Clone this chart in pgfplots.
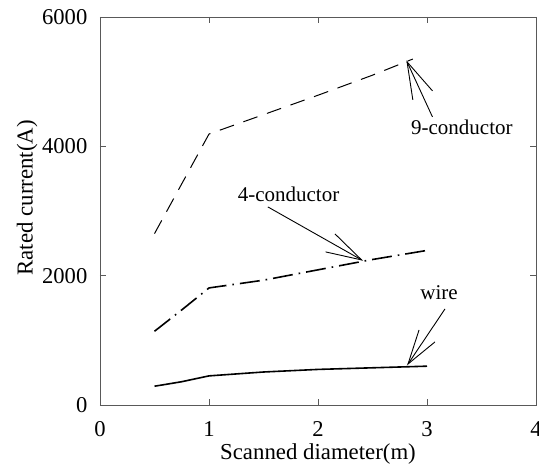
\documentclass[border=0pt]{standalone}
\usepackage{fontspec}
\setmainfont{Liberation Serif}
\usepackage{pgfplots}
\pgfplotsset{compat=1.18}
\begin{document}
\begin{tikzpicture}
\begin{axis}[
  name=ax,
  scale only axis,
  width=218pt, height=194pt,
  xmin=0, xmax=4, ymin=0, ymax=6000,
  xtick={0,1,2,3,4},
  ytick={0,2000,4000,6000},
  scaled y ticks=false,
  /pgf/number format/1000 sep={},
  /pgf/number format/assume math mode=true,
  tick label style={font=\fontsize{11.3}{13}\selectfont},
  xticklabel style={anchor=base, yshift=-15.8pt},
  yticklabel style={xshift=-2.8pt},
  label style={font=\fontsize{11.4}{13}\selectfont},
  xlabel={Scanned diameter(m)},
  ylabel={Rated current(A)},
  xlabel style={at={(axis description cs:0.5,-0.1418)}, anchor=base},
  ylabel style={at={(axis description cs:-0.167,0.534)}, anchor=center},
  tick align=inside,
  major tick length=3pt,
  axis line style={black!65, line width=0.4pt},
  tick style={black!65, line width=0.4pt},
  clip=false,
]
% 9-conductor
\addplot[black, line width=0.5pt, dash pattern=on 7.5pt off 5pt] coordinates {
  (0.5,2650) (1.0,4190) (1.5,4490) (2.0,4790) (2.5,5100) (2.87,5350)
};
% 4-conductor
\addplot[black, line width=0.8pt, dash pattern=on 10pt off 3pt on 0.8pt off 3pt] coordinates {
  (0.5,1140) (0.75,1470) (1.0,1810) (1.5,1930) (2.0,2090) (2.5,2250) (3.0,2390)
};
% wire
\addplot[black, line width=0.8pt] coordinates {
  (0.5,290) (0.75,360) (1.0,450) (1.5,510) (2.0,550) (2.5,575) (3.0,600)
};
% annotations
\draw[line width=0.45pt] (axis cs:3.05,4455) -- (axis cs:2.817,5306);
\draw[line width=0.45pt] (axis cs:2.87,4718) -- (axis cs:2.817,5306) -- (axis cs:3.05,4858);
\node[font=\fontsize{10.5}{12}\selectfont, anchor=center] at (axis cs:3.32,4300) {9-conductor};

\draw[line width=0.45pt] (axis cs:1.54,3063) -- (axis cs:2.40,2243);
\draw[line width=0.45pt] (axis cs:2.156,2645) -- (axis cs:2.40,2243) -- (axis cs:2.07,2367);
\node[font=\fontsize{10.5}{12}\selectfont, anchor=center] at (axis cs:1.73,3264) {4-conductor};

\draw[line width=0.45pt] (axis cs:3.165,1485) -- (axis cs:2.826,634);
\draw[line width=0.45pt] (axis cs:2.927,1160) -- (axis cs:2.826,634) -- (axis cs:3.073,975);
\node[font=\fontsize{10.5}{12}\selectfont, anchor=center] at (axis cs:3.11,1733) {wire};
\end{axis}
\pgfresetboundingbox
\path ([shift={(-50pt,-29.5pt)}]ax.south west) rectangle ([shift={(1.5pt,8.5pt)}]ax.north east);
\end{tikzpicture}
\end{document}
